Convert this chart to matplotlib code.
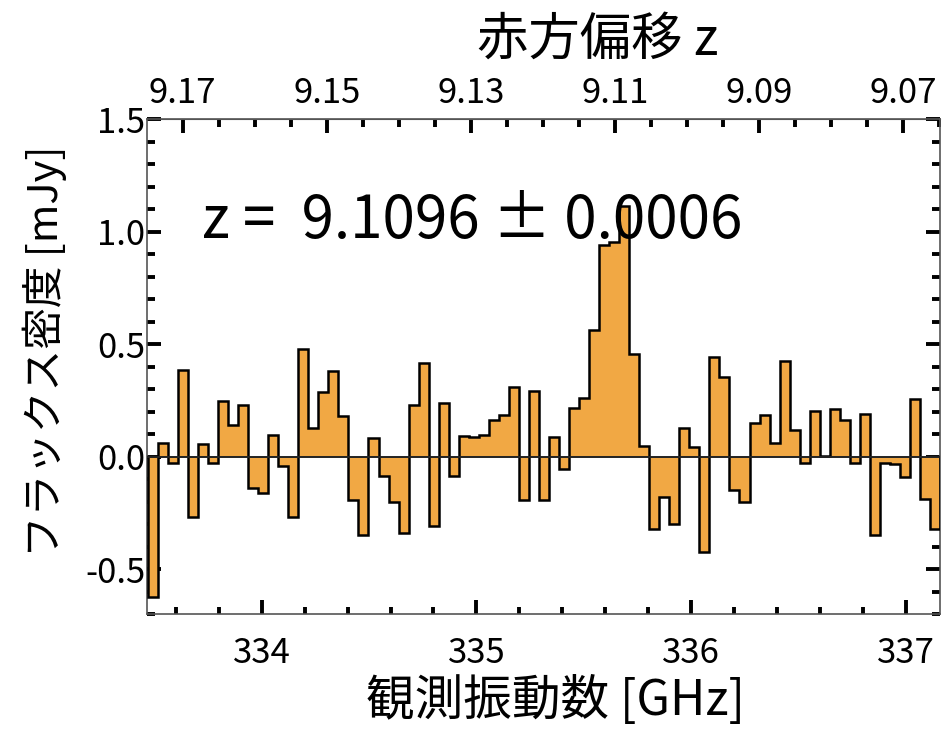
import numpy as np
import matplotlib
matplotlib.use("Agg")
import matplotlib.pyplot as plt
from matplotlib.ticker import MultipleLocator, FormatStrFormatter

plt.rcParams['font.family'] = ['Noto Sans CJK JP', 'DejaVu Sans']
plt.rcParams['axes.unicode_minus'] = False

# Spectrum: flux density per channel (mJy)
flux_mjy = [
    -0.624, 0.058, -0.030, 0.385, -0.270, 0.055, -0.030, 0.245, 0.140, 0.230,
    -0.140, -0.160, 0.094, -0.040, -0.270, 0.480, 0.125, 0.285, 0.380, 0.180,
    -0.195, -0.350, 0.082, -0.085, -0.200, -0.340, 0.230, 0.415, -0.310, 0.240,
    -0.088, 0.090, 0.085, 0.095, 0.162, 0.183, 0.310, -0.195, 0.290, -0.195,
    0.085, -0.055, 0.217, 0.259, 0.564, 0.942, 0.952, 1.112, 0.455, 0.046,
    -0.320, -0.180, -0.300, 0.126, 0.044, -0.426, 0.442, 0.353, -0.151, -0.203,
    0.148, 0.185, 0.059, 0.426, 0.116, -0.030, 0.203, 0.004, 0.212, 0.163,
    -0.030, 0.190, -0.351, -0.030, -0.034, -0.089, 0.257, -0.190, -0.322,
]
chan_start_ghz = 333.470   # lower edge of the first channel
chan_width_ghz = 0.0467    # channel width

freq_lim = (333.466, 337.159)
flux_lim = (-0.7, 1.5)
freq_ticks = [334, 335, 336, 337]
z_ticks = [9.17, 9.15, 9.13, 9.11, 9.09, 9.07]

# Redshift scale along the top axis (linear over this narrow band)
z_ref, nu_ref, dz_dnu = 9.11, 335.6456, -0.029795

def nu_to_z(nu):
    return z_ref + (np.asarray(nu) - nu_ref) * dz_dnu

def z_to_nu(z):
    return nu_ref + (np.asarray(z) - z_ref) / dz_dnu

redshift_text = "z =  9.1096 ± 0.0006"

edges = chan_start_ghz + chan_width_ghz * np.arange(len(flux_mjy) + 1)

fig = plt.figure(figsize=(9.43, 7.32), dpi=100)
ax = fig.add_axes([0.1559, 0.1612, 0.8409, 0.6762])

ax.stairs(flux_mjy, edges, baseline=0, fill=True, color='#F1A844', zorder=2)
ax.stairs(flux_mjy, edges, baseline=0, fill=False, color='black', lw=1.8, zorder=3)
ax.axhline(0, color='#222222', lw=1.4, zorder=3)

ax.set_xlim(*freq_lim)
ax.set_ylim(*flux_lim)

ax.xaxis.set_minor_locator(MultipleLocator(0.2))
ax.set_xticks(freq_ticks)
ax.yaxis.set_major_locator(MultipleLocator(0.5))
ax.yaxis.set_minor_locator(MultipleLocator(0.1))
ax.yaxis.set_major_formatter(FormatStrFormatter('%.1f'))

for s in ax.spines.values():
    s.set_color('#555555')
    s.set_linewidth(1.2)

ax.tick_params(axis='x', which='both', direction='in', top=False, bottom=True,
               labelsize=25, pad=16, width=2.8, color='black')
ax.tick_params(axis='x', which='major', length=10)
ax.tick_params(axis='x', which='minor', length=5)
ax.tick_params(axis='y', which='both', direction='in', left=True, right=True,
               labelsize=25, pad=1, width=2.8, color='black')
ax.tick_params(axis='y', which='major', length=10)
ax.tick_params(axis='y', which='minor', length=6)

sec = ax.secondary_xaxis('top', functions=(nu_to_z, z_to_nu))
sec.set_xticks(z_ticks)
sec.xaxis.set_minor_locator(MultipleLocator(0.005))
sec.xaxis.set_major_formatter(FormatStrFormatter('%.2f'))
sec.spines['top'].set_color('#555555')
sec.tick_params(axis='x', which='both', direction='in', labelsize=25, pad=6,
                width=2.8, color='black')
sec.tick_params(axis='x', which='major', length=10)
sec.tick_params(axis='x', which='minor', length=6)

ax.text(333.72, 0.972, redshift_text, fontsize=42, va='baseline', ha='left',
        zorder=5)

fig.text(0.634, 0.946, "赤方偏移 z", fontsize=37, ha='center', va='center')
fig.text(0.589, 0.042, "観測振動数 [GHz]", fontsize=35, ha='center', va='center')
fig.text(0.048, 0.520, "フラックス密度 [mJy]", fontsize=30, ha='center',
         va='center', rotation=90)

fig.savefig("out.png", dpi=100)
